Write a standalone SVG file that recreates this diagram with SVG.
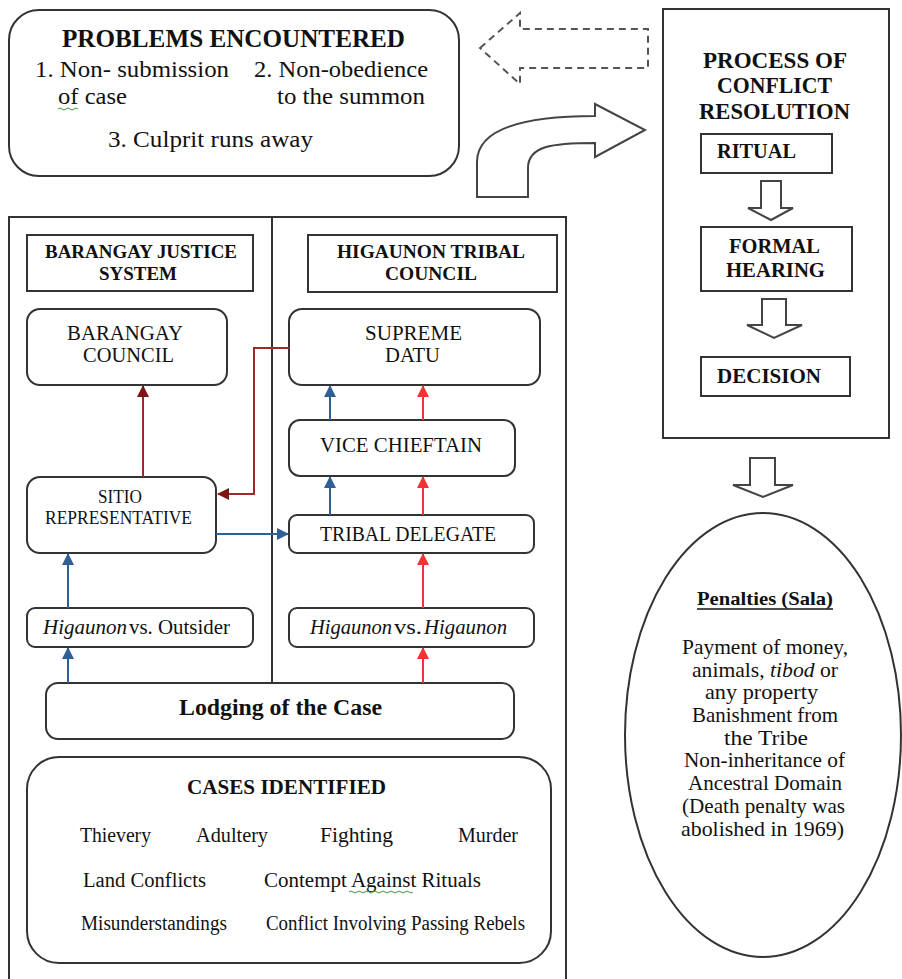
<svg xmlns="http://www.w3.org/2000/svg" width="902" height="979" viewBox="0 0 902 979">
<defs>
<style>
.bx{fill:#fff;stroke:#333;stroke-width:2}
.t{font-family:"Liberation Serif","Times New Roman",serif;fill:#111}
.b{font-weight:bold}
.blue{stroke:#2F5F95;stroke-width:2;fill:none}
.red{stroke:#F23333;stroke-width:2;fill:none}
.dred{stroke:#9B2B2B;stroke-width:2;fill:none}
.blk{fill:#fff;stroke:#444;stroke-width:2}
</style>
<marker id="mb" markerUnits="userSpaceOnUse" markerWidth="12" markerHeight="12" viewBox="0 0 12 12" refX="11" refY="6" orient="auto"><path d="M0,0 L12,6 L0,12 Z" fill="#2F5F95"/></marker>
<marker id="mr" markerUnits="userSpaceOnUse" markerWidth="12" markerHeight="12" viewBox="0 0 12 12" refX="11" refY="6" orient="auto"><path d="M0,0 L12,6 L0,12 Z" fill="#F23333"/></marker>
<marker id="md" markerUnits="userSpaceOnUse" markerWidth="12" markerHeight="12" viewBox="0 0 12 12" refX="11" refY="6" orient="auto"><path d="M0,0 L12,6 L0,12 Z" fill="#7E1414"/></marker>
</defs>
<rect width="902" height="979" fill="#fff"/>

<g id="problems">
<rect class="bx" x="9" y="10" width="450" height="166" rx="30"/>
<text class="t b" x="62" y="47" font-size="26" textLength="343" lengthAdjust="spacingAndGlyphs">PROBLEMS ENCOUNTERED</text>
<text class="t" x="35" y="77" font-size="23" textLength="194" lengthAdjust="spacingAndGlyphs">1. Non- submission</text>
<text class="t" x="58" y="104" font-size="23" textLength="69" lengthAdjust="spacingAndGlyphs">of case</text>
<text class="t" x="254" y="77" font-size="23" textLength="174" lengthAdjust="spacingAndGlyphs">2. Non-obedience</text>
<text class="t" x="277" y="104" font-size="23" textLength="148" lengthAdjust="spacingAndGlyphs">to the summon</text>
<text class="t" x="108" y="147" font-size="23" textLength="205" lengthAdjust="spacingAndGlyphs">3. Culprit runs away</text>
<path d="M58,109 q2,-2 4,0 t4,0 t4,0 t4,0 t4,0" fill="none" stroke="#3a9a3a" stroke-width="1"/>
</g>

<g id="dashed-arrow">
<path d="M480,48 L520,13 L520,29 L648,29 L648,68 L520,68 L520,84 Z" fill="#fff" stroke="#555" stroke-width="2" stroke-dasharray="7,5"/>
</g>

<g id="curved-arrow">
<path d="M477,197 L477,162 C477,130 520,116 595,116 L595,104 L645,130 L595,157 L595,143 C552,143 528,146 528,168 L528,197 Z" fill="#fff" stroke="#444" stroke-width="2"/>
</g>

<g id="process">
<rect class="bx" x="663" y="9" width="226" height="429"/>
<text class="t b" x="703" y="68" font-size="23" textLength="144" lengthAdjust="spacingAndGlyphs">PROCESS OF</text>
<text class="t b" x="717" y="93" font-size="23" textLength="115" lengthAdjust="spacingAndGlyphs">CONFLICT</text>
<text class="t b" x="699" y="119" font-size="23" textLength="151" lengthAdjust="spacingAndGlyphs">RESOLUTION</text>
</g>
<g id="ritual">
<rect class="bx" x="701" y="134" width="131" height="39"/>
<text class="t b" x="717" y="158" font-size="20" textLength="79" lengthAdjust="spacingAndGlyphs">RITUAL</text>
</g>
<g id="formal-hearing">
<rect class="bx" x="701" y="227" width="151" height="64"/>
<text class="t b" x="729" y="253" font-size="20" textLength="91" lengthAdjust="spacingAndGlyphs">FORMAL</text>
<text class="t b" x="726" y="277" font-size="20" textLength="99" lengthAdjust="spacingAndGlyphs">HEARING</text>
</g>
<g id="decision">
<rect class="bx" x="701" y="357" width="149" height="39"/>
<text class="t b" x="717" y="383" font-size="20" textLength="104" lengthAdjust="spacingAndGlyphs">DECISION</text>
</g>
<g id="block-arrows">
<path class="blk" d="M761,181 H781 V208 H793 L771,220 L748,208 H761 Z"/>
<path class="blk" d="M762,299 H786 V325 H802 L774,338 L747,325 H762 Z"/>
<path class="blk" d="M750,458 H775 V485 H793 L763,497 L733,485 H750 Z"/>
</g>

<g id="penalties">
<ellipse cx="763" cy="735" rx="138" ry="222" fill="#fff" stroke="#333" stroke-width="2"/>
<text class="t b" x="697" y="605" font-size="19" textLength="136" lengthAdjust="spacingAndGlyphs">Penalties (Sala)</text>
<line x1="697" y1="609" x2="833" y2="609" stroke="#111" stroke-width="1.3"/>
<text class="t" x="682" y="654" font-size="21" textLength="166" lengthAdjust="spacingAndGlyphs">Payment of money,</text>
<text class="t" x="692" y="677" font-size="21" textLength="146" lengthAdjust="spacingAndGlyphs">animals, <tspan font-style="italic">tibod</tspan> or</text>
<text class="t" x="705" y="699" font-size="21" textLength="113" lengthAdjust="spacingAndGlyphs">any property</text>
<text class="t" x="692" y="722" font-size="21" textLength="146" lengthAdjust="spacingAndGlyphs">Banishment from</text>
<text class="t" x="724" y="745" font-size="21" textLength="84" lengthAdjust="spacingAndGlyphs">the Tribe</text>
<text class="t" x="684" y="767" font-size="21" textLength="161" lengthAdjust="spacingAndGlyphs">Non-inheritance of</text>
<text class="t" x="688" y="790" font-size="21" textLength="154" lengthAdjust="spacingAndGlyphs">Ancestral Domain</text>
<text class="t" x="682" y="813" font-size="21" textLength="163" lengthAdjust="spacingAndGlyphs">(Death penalty was</text>
<text class="t" x="681" y="836" font-size="21" textLength="163" lengthAdjust="spacingAndGlyphs">abolished in 1969)</text>
</g>

<g id="frame">
<path d="M9,979 V217 H566 V979" fill="none" stroke="#333" stroke-width="2"/>
<line x1="272" y1="217" x2="272" y2="683" stroke="#333" stroke-width="2"/>
</g>

<g id="barangay-justice-system">
<rect class="bx" x="27" y="235" width="226" height="56"/>
<text class="t b" x="45" y="258" font-size="19" textLength="192" lengthAdjust="spacingAndGlyphs">BARANGAY JUSTICE</text>
<text class="t b" x="99" y="280" font-size="19" textLength="78" lengthAdjust="spacingAndGlyphs">SYSTEM</text>
</g>
<g id="higaunon-tribal-council">
<rect class="bx" x="308" y="235" width="249" height="57"/>
<text class="t b" x="337" y="258" font-size="19" textLength="188" lengthAdjust="spacingAndGlyphs">HIGAUNON TRIBAL</text>
<text class="t b" x="385" y="280" font-size="19" textLength="92" lengthAdjust="spacingAndGlyphs">COUNCIL</text>
</g>
<g id="barangay-council">
<rect class="bx" x="27" y="309" width="200" height="76" rx="13"/>
<text class="t" x="67" y="340" font-size="21" textLength="116" lengthAdjust="spacingAndGlyphs">BARANGAY</text>
<text class="t" x="83" y="362" font-size="21" textLength="91" lengthAdjust="spacingAndGlyphs">COUNCIL</text>
</g>
<g id="supreme-datu">
<rect class="bx" x="289" y="309" width="251" height="76" rx="13"/>
<text class="t" x="365" y="340" font-size="21" textLength="97" lengthAdjust="spacingAndGlyphs">SUPREME</text>
<text class="t" x="385" y="362" font-size="21" textLength="55" lengthAdjust="spacingAndGlyphs">DATU</text>
</g>
<g id="vice-chieftain">
<rect class="bx" x="289" y="420" width="226" height="56" rx="11"/>
<text class="t" x="320" y="452" font-size="21" textLength="162" lengthAdjust="spacingAndGlyphs">VICE CHIEFTAIN</text>
</g>
<g id="sitio-representative">
<rect class="bx" x="27" y="477" width="189" height="76" rx="13"/>
<text class="t" x="98" y="503" font-size="18" textLength="44" lengthAdjust="spacingAndGlyphs">SITIO</text>
<text class="t" x="45" y="524" font-size="18" textLength="147" lengthAdjust="spacingAndGlyphs">REPRESENTATIVE</text>
</g>
<g id="tribal-delegate">
<rect class="bx" x="289" y="515" width="245" height="38" rx="8"/>
<text class="t" x="320" y="541" font-size="21" textLength="176" lengthAdjust="spacingAndGlyphs">TRIBAL DELEGATE</text>
</g>
<g id="higaunon-vs-outsider">
<rect class="bx" x="27" y="608" width="226" height="39" rx="8"/>
<text class="t" x="43" y="634" font-size="21"><tspan font-style="italic" textLength="84" lengthAdjust="spacingAndGlyphs">Higaunon</tspan><tspan x="129" textLength="101" lengthAdjust="spacingAndGlyphs">vs. Outsider</tspan></text>
</g>
<g id="higaunon-vs-higaunon">
<rect class="bx" x="289" y="608" width="245" height="39" rx="8"/>
<text class="t" x="310" y="634" font-size="21"><tspan font-style="italic" textLength="82" lengthAdjust="spacingAndGlyphs">Higaunon</tspan><tspan x="394" textLength="28" lengthAdjust="spacingAndGlyphs">vs.</tspan><tspan x="424" font-style="italic" textLength="83" lengthAdjust="spacingAndGlyphs">Higaunon</tspan></text>
</g>
<g id="lodging">
<rect class="bx" x="46" y="683" width="468" height="56" rx="12"/>
<text class="t b" x="179" y="715" font-size="24" textLength="203" lengthAdjust="spacingAndGlyphs">Lodging of the Case</text>
</g>
<g id="cases-identified">
<rect class="bx" x="27" y="757" width="524" height="206" rx="32"/>
<text class="t b" x="187" y="794" font-size="22" textLength="199" lengthAdjust="spacingAndGlyphs">CASES IDENTIFIED</text>
<text class="t" x="80" y="842" font-size="20" textLength="71" lengthAdjust="spacingAndGlyphs">Thievery</text>
<text class="t" x="196" y="842" font-size="20" textLength="72" lengthAdjust="spacingAndGlyphs">Adultery</text>
<text class="t" x="320" y="842" font-size="20" textLength="73" lengthAdjust="spacingAndGlyphs">Fighting</text>
<text class="t" x="458" y="842" font-size="20" textLength="60" lengthAdjust="spacingAndGlyphs">Murder</text>
<text class="t" x="83" y="887" font-size="20" textLength="123" lengthAdjust="spacingAndGlyphs">Land Conflicts</text>
<text class="t" x="264" y="887" font-size="20" textLength="217" lengthAdjust="spacingAndGlyphs">Contempt Against Rituals</text>
<text class="t" x="81" y="930" font-size="20" textLength="146" lengthAdjust="spacingAndGlyphs">Misunderstandings</text>
<text class="t" x="266" y="930" font-size="20" textLength="259" lengthAdjust="spacingAndGlyphs">Conflict Involving Passing Rebels</text>
<path d="M349,892 q2,-2 4,0 t4,0 t4,0 t4,0 t4,0 t4,0 t4,0 t4,0 t4,0 t4,0 t4,0 t4,0 t4,0 t4,0 t4,0 t4,0" fill="none" stroke="#3a9a3a" stroke-width="1"/>
</g>

<g id="connectors">
<line class="blue" x1="68" y1="683" x2="68" y2="648" marker-end="url(#mb)"/>
<line class="blue" x1="68" y1="608" x2="68" y2="554" marker-end="url(#mb)"/>
<line class="blue" x1="216" y1="534" x2="288" y2="534" marker-end="url(#mb)"/>
<line class="blue" x1="330" y1="515" x2="330" y2="477" marker-end="url(#mb)"/>
<line class="blue" x1="330" y1="420" x2="330" y2="386" marker-end="url(#mb)"/>
<line class="red" x1="423" y1="683" x2="423" y2="648" marker-end="url(#mr)"/>
<line class="red" x1="423" y1="608" x2="423" y2="554" marker-end="url(#mr)"/>
<line class="red" x1="423" y1="515" x2="423" y2="477" marker-end="url(#mr)"/>
<line class="red" x1="423" y1="420" x2="423" y2="386" marker-end="url(#mr)"/>
<line class="dred" x1="143" y1="477" x2="143" y2="386" marker-end="url(#md)"/>
<polyline class="dred" points="289,348 254,348 254,494 218,494" marker-end="url(#md)"/>
</g>
</svg>
